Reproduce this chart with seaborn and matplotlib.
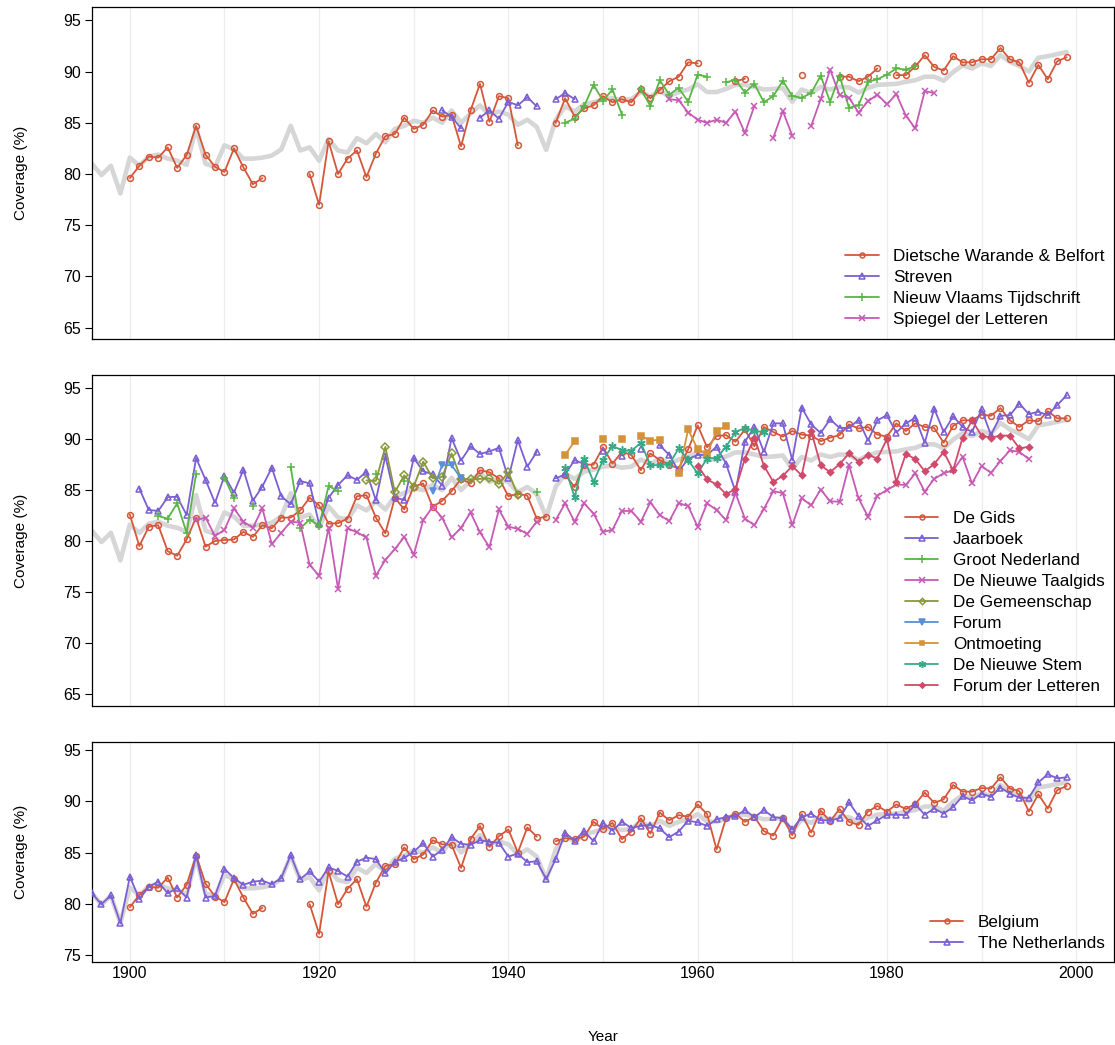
import numpy as np
import pandas as pd
import matplotlib
matplotlib.use("Agg")
import matplotlib.pyplot as plt
from matplotlib.lines import Line2D
from matplotlib.ticker import MultipleLocator
import seaborn as sns

NA = None

# Yearly mean coverage over all journals (grey reference line)
avg_start = 1896
average = [
    81.0, 79.9, 80.8, 78.1,
    81.6, 80.8, 81.7, 81.9, 81.5, 81.3, 80.9, 84.5, 81.0, 80.7,
    82.8, 82.4, 81.5, 81.5, 81.6, 81.8, 82.4, 84.7, 82.3, 82.6,
    81.3, 83.4, 82.3, 82.1, 83.5, 83.0, 83.9, 83.1, 84.4, 84.7,
    85.2, 85.0, 85.5, 85.0, 86.2, 85.0, 85.9, 86.7, 85.8, 86.1,
    85.8, 84.8, 85.3, 84.6, 82.35, 85.3, 86.6, 86.1, 86.8, 87.0,
    87.3, 87.4, 87.2, 87.3, 88.0, 87.55, 88.1, 87.6, 88.0, 88.25,
    88.75, 88.0, 88.0, 88.3, 88.7, 88.7, 88.5, 88.25, 88.3, 88.4,
    87.05, 88.25, 87.9, 88.5, 88.25, 88.5, 88.45, 87.95, 88.4, 88.7,
    88.75, 88.8, 89.0, 89.15, 89.5, 89.5, 89.1, 89.95, 90.6, 90.3,
    90.8, 90.55, 91.6, 90.95, 90.55, 90.0, 91.35, 91.5, 91.7, 91.9,
]

# --- Flemish journals ---
dwb_start = 1900
dwb = [
    79.6, 80.8, 81.7, 81.6, 82.6, 80.6, 81.85, 84.7, 81.9, 80.7,
    80.2, 82.5, 80.65, 79.0, 79.6, NA, NA, NA, NA, 80.0,
    77.0, 83.2, 80.0, 81.5, 82.3, 79.7, 82.0, 83.7, 83.9, 85.5,
    84.4, 84.8, 86.2, 85.6, 85.75, 82.7, 86.2, 88.8, 85.1, 87.6,
    87.4, 82.8, NA, NA, NA, 85.0, 87.4, 85.6, 86.4, 86.7,
    87.6, 87.0, 87.3, 87.0, 88.25, 87.4, 88.2, 89.05, 89.5, 90.9,
    90.8, NA, NA, NA, 89.05, 89.3, NA, NA, NA, NA,
    NA, 89.7, NA, NA, NA, 89.5, 89.5, 89.05, 89.5, 90.3,
    NA, 89.65, 89.65, 90.5, 91.6, 90.45, 90.1, 91.5, 90.9, 90.9,
    91.2, 91.2, 92.3, 91.2, 90.9, 88.9, 90.65, 89.25, 91.0, 91.4,
]

streven_start = 1933
streven = [86.2, 85.6, 84.45, NA, 85.5, 86.2, 85.4, 87.05, 86.7, 87.5,
           86.6, NA, 87.3, 87.9, 87.3]

nvt_start = 1946
nvt = [
    85.0, 85.4, 86.6, 88.7,
    87.15, 88.25, 85.8, NA, 88.25, 86.65, 89.15, 87.75, 88.4, 87.05,
    89.7, 89.5, NA, 88.95, 89.2, 87.95, 88.8, 87.0, 87.6, 89.1,
    87.6, 87.45, 87.9, 89.6, 87.05, 89.6, 86.45, 86.7, 89.0, 89.25,
    89.7, 90.3, 90.2, 90.5,
]

spiegel_start = 1957
spiegel = [
    87.3, 87.2, 86.0,
    85.3, 85.0, 85.3, 85.0, 86.1, 84.0, 86.65, NA, 83.55, 86.15,
    83.75, NA, 84.7, 87.3, 90.2, 87.7, 87.45, 86.0, 87.1, 87.75,
    86.8, 87.8, 85.7, 84.45, 88.1, 87.9,
]

# --- Dutch journals ---
gids_start = 1900
gids = [
    82.6, 79.5, 81.4, 81.55, 79.0, 78.55, 80.15, 82.3, 79.45, 80.0,
    80.1, 80.15, 80.9, 80.4, 81.55, 81.25, 82.3, 82.3, 83.0, 84.25,
    83.5, 81.7, 81.75, 82.2, 84.4, 84.5, 82.3, 80.75, 84.25, 83.1,
    85.35, 85.65, 83.35, 83.95, 84.9, 86.1, 85.65, 86.95, 86.75, 86.15,
    84.4, 84.65, 84.45, 82.2, 82.4, NA, 86.5, 85.3, 87.5, 87.5,
    89.2, 87.6, 88.75, 88.45, 86.95, 88.6, 87.95, 87.5, 87.1, 89.0,
    91.35, 89.2, 90.3, 90.4, 89.75, 90.95, 89.3, 91.2, 90.7, 90.25,
    90.8, 90.45, 90.35, 89.8, 90.15, 90.4, 91.45, 91.05, 91.2, 90.45,
    90.25, 91.55, 90.8, 91.55, 91.2, 91.1, 89.65, 91.3, 91.85, 91.85,
    92.4, 92.3, 93.05, 91.85, 91.2, 91.85, 91.75, 92.75, 92.05, 92.05,
]

jaarboek_start = 1901
jaarboek = [
    85.15, 83.05, 82.95, 84.3, 84.35, 82.55, 88.15, 86.0, 83.75,
    86.4, 84.75, 87.0, 83.95, 85.35, 87.2, 84.4, 83.6, 85.9, 85.65,
    81.65, 84.25, 85.5, 86.45, 86.0, 86.8, 84.0, 88.35, 84.3, 84.0,
    88.15, 86.85, 86.55, 85.45, 90.1, 87.9, 89.3, 88.55, 88.8, 89.15,
    86.15, 89.9, 87.3, 88.75, NA, 86.15, 86.55, 87.95, 87.55, NA,
    88.85, NA, 88.35, NA, 89.0, NA, 89.4, 88.45, 86.85, 88.05,
    88.45, 88.45, 89.25, 87.6, 84.85, 89.75, 91.2, 88.75, 91.55, 91.55,
    87.95, 93.1, 91.45, 90.6, 91.95, 91.1, 91.1, 91.9, 89.85, 91.85,
    92.35, 90.65, 91.55, 92.1, 89.65, 93.0, 90.7, 92.25, 91.2, 90.7,
    92.95, 90.4, 92.3, 92.35, 93.5, 92.45, 92.7, 92.35, 93.35, 94.3,
]

groot_start = 1903
groot = [
    82.45, 82.2, 83.7, 80.8, 86.6, NA, NA,
    86.2, 84.2, NA, 83.4, NA, NA, NA, 87.3, 81.25, 82.1,
    81.5, 85.4, 84.9, NA, NA, NA, 86.6, NA, NA, 85.9,
    NA, NA, NA, NA, NA, NA, NA, NA, NA, NA,
    NA, NA, NA, 84.8,
]

taalgids_start = 1907
taalgids = [
    82.05, 82.3, 80.5,
    81.1, 83.2, 81.9, 81.3, 83.2, 79.7, 80.8, 81.9, 81.8, 77.65,
    76.6, 81.3, 75.3, 81.25, 80.85, 80.35, 76.6, 78.15, 79.2, 80.4,
    78.65, 82.05, 83.35, 82.3, 80.35, 81.3, 82.8, 80.85, 79.4, 83.1,
    81.4, 81.2, 80.7, 81.9, NA, 82.05, 83.7, 81.9, 83.7, 82.7,
    80.9, 81.1, 82.95, 82.95, 81.9, 83.8, 82.55, 81.95, 83.7, 83.45,
    81.4, 83.7, 83.05, 82.05, 84.7, 82.2, 81.55, 83.15, 84.9, 84.7,
    81.55, 84.2, 83.5, 85.05, 83.9, 83.85, 87.45, 84.2, 82.4, 84.45,
    85.0, 85.55, 85.5, 86.65, 84.85, 86.1, 86.65, 86.95, 88.25, 85.65,
    87.35, 86.7, 87.85, 88.9, 88.75, 88.05,
]

gemeenschap_start = 1925
gemeenschap = [85.95, 85.9, 89.25, 84.8, 86.45, 85.35, 87.8, 86.15, 86.3,
               88.6, 86.1, 86.05, 86.1, 86.15, 85.6, 86.75, 84.5]

forum_start = 1932
forum = [84.9, 87.45, 87.45, 86.15]

ontmoeting_start = 1946
ontmoeting = [88.45, 89.8, NA, NA, 90.05, NA, 90.0, NA, 90.35, 89.85, 89.95,
              NA, 86.65, 90.95, 89.0, 88.55, 90.8, 91.3]

stem_start = 1946
stem = [87.2, 84.3, 88.1, 85.8, 87.95, 89.35, 88.9, 88.85, 89.65, 87.45, 87.45,
        87.55, 89.1, 87.95, 86.65, 88.1, 88.15, 89.25, 90.7, 91.1, 90.8, 90.7]

fdl_start = 1960
fdl = [
    87.4, 86.05, 85.55, 84.6, 85.1, 88.1, 90.15, 87.4, 85.8, 86.4,
    87.35, 86.45, 90.8, 87.45, 86.75, 87.55, 88.6, 87.8, 88.45, 88.1,
    90.0, 85.8, 88.55, 88.05, 86.85, 87.55, 88.75, 86.95, 90.15, 91.85,
    90.35, 90.15, 90.35, 90.35, 89.1, 89.25,
]

# --- Country means ---
belgium_start = 1900
belgium = [
    79.65, 80.85, 81.65, 81.55, 82.55, 80.6, 81.85, 84.7, 81.95, 80.7,
    80.15, 82.4, 80.6, 79.0, 79.6, NA, NA, NA, NA, 79.95,
    77.05, 83.15, 79.95, 81.45, 82.4, 79.7, 82.05, 83.7, 83.85, 85.5,
    84.35, 84.8, 86.2, 85.8, 85.75, 83.5, 86.3, 87.6, 85.55, 86.6,
    87.25, 85.0, 87.45, 86.55, NA, 86.1, 86.4, 86.3, 86.55, 88.0,
    87.3, 87.9, 86.3, 87.05, 88.35, 86.85, 88.9, 88.15, 88.65, 88.5,
    89.7, 88.75, 85.3, 88.35, 88.8, 88.0, 88.5, 87.1, 86.65, 88.35,
    86.7, 88.75, 86.95, 89.1, 88.05, 89.25, 88.0, 87.7, 89.0, 89.55,
    89.0, 89.7, 89.25, 89.75, 90.85, 89.85, 90.2, 91.6, 90.95, 90.95,
    91.3, 91.25, 92.35, 91.25, 91.0, 89.0, 90.7, 89.3, 91.1, 91.5,
]

netherlands_start = 1896
netherlands = [
    81.0, 79.95, 80.8, 78.1,
    82.65, 80.45, 81.65, 82.15, 81.0, 81.55, 80.6, 84.75, 80.6, 80.75,
    83.4, 82.5, 81.85, 82.15, 82.25, 81.9, 82.5, 84.75, 82.4, 83.15,
    82.15, 83.55, 83.2, 82.65, 84.1, 84.5, 84.35, 82.95, 84.1, 84.45,
    85.1, 85.9, 84.6, 85.25, 86.5, 85.85, 85.75, 86.2, 86.05, 85.95,
    84.6, 84.9, 84.05, 84.15, 82.4, 84.35, 86.95, 86.15, 87.1, 86.1,
    87.9, 87.15, 88.0, 87.4, 87.6, 87.7, 87.35, 86.5, 87.05, 88.1,
    87.95, 87.6, 88.25, 88.45, 88.55, 89.15, 88.45, 89.15, 88.45, 88.35,
    87.25, 88.45, 88.8, 88.15, 88.15, 88.35, 89.9, 88.55, 87.6, 88.15,
    88.7, 88.7, 88.65, 89.7, 88.7, 89.3, 88.8, 89.45, 90.5, 90.1,
    90.75, 90.45, 91.35, 90.75, 90.35, 90.35, 91.85, 92.65, 92.25, 92.35,
]

RED = "#d4573a"
PURPLE = "#7b5fd3"
GREEN = "#58b646"
MAGENTA = "#c65ab5"
OLIVE = "#88993a"
BLUE = "#5a8edb"
ORANGE = "#d4923a"
TEAL = "#36aa86"
CRIMSON = "#d04a6c"
GREY = "#d6d6d6"

ASTERISK = (6, 2, 0)

# (label, start, values, colour, marker, filled)
panel_top = [
    ("Dietsche Warande & Belfort", dwb_start, dwb, RED, "o", False),
    ("Streven", streven_start, streven, PURPLE, "^", False),
    ("Nieuw Vlaams Tijdschrift", nvt_start, nvt, GREEN, "+", False),
    ("Spiegel der Letteren", spiegel_start, spiegel, MAGENTA, "x", False),
]
panel_mid = [
    ("De Gids", gids_start, gids, RED, "o", False),
    ("Jaarboek", jaarboek_start, jaarboek, PURPLE, "^", False),
    ("Groot Nederland", groot_start, groot, GREEN, "+", False),
    ("De Nieuwe Taalgids", taalgids_start, taalgids, MAGENTA, "x", False),
    ("De Gemeenschap", gemeenschap_start, gemeenschap, OLIVE, "D", False),
    ("Forum", forum_start, forum, BLUE, "v", True),
    ("Ontmoeting", ontmoeting_start, ontmoeting, ORANGE, "s", True),
    ("De Nieuwe Stem", stem_start, stem, TEAL, ASTERISK, False),
    ("Forum der Letteren", fdl_start, fdl, CRIMSON, "D", True),
]
panel_bot = [
    ("Belgium", belgium_start, belgium, RED, "o", False),
    ("The Netherlands", netherlands_start, netherlands, PURPLE, "^", False),
]

sns.set_style("white")
plt.rcParams["font.family"] = ["Liberation Sans", "DejaVu Sans"]
for key in ("text.color", "axes.labelcolor", "xtick.color", "ytick.color"):
    plt.rcParams[key] = "black"

FS = 11.5
LEG_FS = 12.3


def series_frame(start, values):
    vals = np.array(values, dtype=float)
    df = pd.DataFrame({"year": np.arange(start, start + len(vals)), "value": vals})
    df["run"] = df["value"].isna().cumsum()
    return df.dropna()


def marker_style(color, marker, filled):
    if marker == ASTERISK:
        size = 6.0
    else:
        size = {"o": 4.2, "^": 4.6, "v": 4.6, "s": 4.0, "+": 6.0, "x": 5.0}.get(marker, 4.0)
        if marker == "D":
            size = 3.2 if filled else 3.8
    return dict(marker=marker, markersize=size,
                markerfacecolor=color if filled else "none",
                markeredgecolor=color, markeredgewidth=1.1)


def draw_panel(ax, series, ylim, yticks):
    avg = series_frame(avg_start, average)
    sns.lineplot(data=avg, x="year", y="value", color=GREY, linewidth=3.3,
                 estimator=None, ax=ax, zorder=1, legend=False)
    for label, start, values, color, marker, filled in series:
        df = series_frame(start, values)
        sns.lineplot(data=df, x="year", y="value", units="run", estimator=None,
                     color=color, linewidth=1.3, ax=ax, zorder=3, legend=False,
                     **marker_style(color, marker, filled))
    ax.set_xlim(1896, 2004)
    ax.set_ylim(*ylim)
    ax.set_yticks(yticks)
    ax.xaxis.set_major_locator(MultipleLocator(20))
    ax.xaxis.set_minor_locator(MultipleLocator(10))
    ax.grid(axis="x", which="both", color="#ededed", linewidth=0.9, zorder=0)
    ax.set_axisbelow(True)
    ax.tick_params(axis="y", which="both", direction="out", length=5, width=0.8,
                   labelsize=FS, pad=3, left=True)
    ax.tick_params(axis="x", which="both", length=0, labelsize=FS, pad=3)
    for sp in ax.spines.values():
        sp.set_color("black")
        sp.set_linewidth(0.9)
    ax.set_ylabel("Coverage (%)", fontsize=11)
    ax.yaxis.set_label_coords(-0.063, 0.5)
    ax.set_xlabel("")
    handles = []
    for (_, _, _, c, m, f) in series:
        st = marker_style(c, m, f)
        st["markersize"] = st["markersize"] * 0.85
        handles.append(Line2D([], [], color=c, linewidth=1.3, **st))
    labels = [s[0] for s in series]
    ax.legend(handles, labels, loc="lower right", bbox_to_anchor=(1.0, 0.008),
              frameon=False, fontsize=LEG_FS, handlelength=1.95,
              handletextpad=0.85, labelspacing=0.35, borderaxespad=0.15,
              borderpad=0.4)


fig = plt.figure(figsize=(11.15, 10.45), dpi=100)
W, H = 1115.0, 1045.0
left, width = 92 / W, (1114 - 92) / W
ax1 = fig.add_axes([left, 1 - 339 / H, width, 332 / H])
ax2 = fig.add_axes([left, 1 - 706 / H, width, 331 / H])
ax3 = fig.add_axes([left, 1 - 962 / H, width, 220 / H])

draw_panel(ax1, panel_top, (63.9, 96.3), [65, 70, 75, 80, 85, 90, 95])
draw_panel(ax2, panel_mid, (63.8, 96.3), [65, 70, 75, 80, 85, 90, 95])
draw_panel(ax3, panel_bot, (74.3, 95.8), [75, 80, 85, 90, 95])

for ax in (ax1, ax2):
    ax.tick_params(axis="x", labelbottom=False)

ax3.set_xticks([1900, 1920, 1940, 1960, 1980, 2000])
ax3.set_xlabel("Year", fontsize=11)
ax3.xaxis.set_label_coords(0.5, -0.31)

fig.savefig("out.png", dpi=100)
